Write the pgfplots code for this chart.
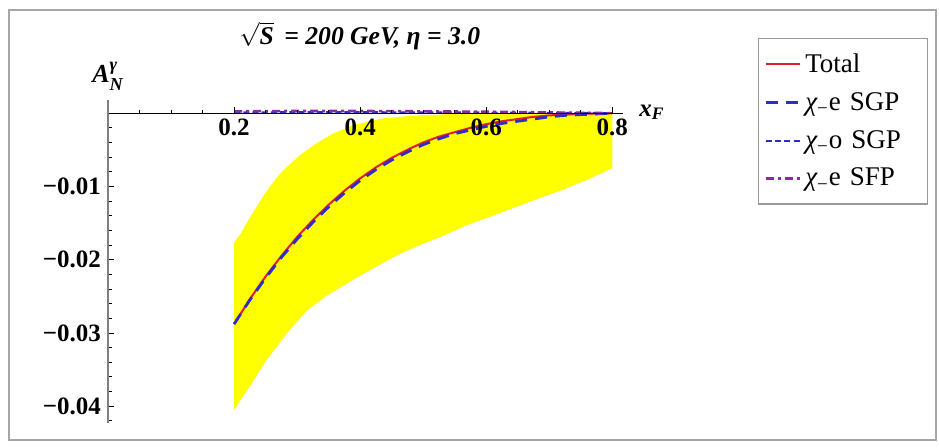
\documentclass[border=0pt]{standalone}
\usepackage{amsmath}
\usepackage{fontspec}
\setmainfont{Liberation Serif}
\usepackage{pgfplots}
\pgfplotsset{compat=1.18}
\definecolor{curvered}{RGB}{220,30,45}
\definecolor{sgpblue}{RGB}{45,45,200}
\definecolor{sfppurple}{RGB}{140,40,170}
\definecolor{bandyellow}{RGB}{255,255,0}

\begin{document}
\begin{tikzpicture}
% 1 px of the reference = 0.5pt, origin at axis lower left (px 108,423)
\useasboundingbox (-54pt,-12.5pt) rectangle (415.5pt,211.5pt);
\draw[gray!70, line width=1pt] (-49.5pt,-8.5pt) rectangle (414pt,206.5pt);
\begin{axis}[
  at={(0,0)}, anchor=south west,
  scale only axis, width=257.5pt, height=161.5pt,
  xmin=0, xmax=0.817, ymin=-0.0423, ymax=0.0018,
  axis lines*=middle, axis on top,
  scaled y ticks=false, scaled x ticks=false,
  x axis line style={black, line width=0.6pt},
  y axis line style={gray, line width=0.6pt},
  xtick={0.2,0.4,0.6,0.8}, xticklabels={0.2,0.4,0.6,0.8},
  minor xtick={0.05,0.1,0.15,0.25,0.3,0.35,0.45,0.5,0.55,0.65,0.7,0.75},
  ytick={-0.04,-0.03,-0.02,-0.01},
  yticklabels={−0.04,−0.03,−0.02,−0.01},
  minor ytick={-0.042,-0.038,-0.036,-0.034,-0.032,-0.028,-0.026,-0.024,-0.022,-0.018,-0.016,-0.014,-0.012,-0.008,-0.006,-0.004,-0.002},
  tick align=inside,
  major tick length=3pt, minor tick length=1.8pt,
  tick style={black, line width=0.4pt},
  every tick label/.append style={font=\bfseries\fontsize{12.5}{13}\selectfont},
  xticklabel style={yshift=0.5pt},
  title={{\bfseries\itshape $\sqrt{\mbox{\bfseries\itshape S}}$\, = 200 GeV, η = 3.0}},
  title style={at={(axis description cs:0.489,1.162)}, anchor=center, font=\fontsize{12.8}{13}\selectfont},
  xlabel={{\bfseries\itshape x$_{\text{\bfseries\itshape F}}$}},
  xlabel style={at={(axis description cs:1.056,0.962)}, anchor=center, font=\fontsize{12.5}{13}\selectfont},
  ylabel={{\bfseries\itshape A$^{\text{\bfseries\itshape γ}}_{\text{\bfseries\itshape N}}$}},
  ylabel style={at={(axis description cs:0.0,1.074)}, anchor=center, rotate=-90, font=\fontsize{13}{13}\selectfont},
  legend style={at={(axis description cs:1.262,1.192)}, anchor=north west,
                draw=gray!80, line width=0.6pt, font=\fontsize{13.5}{15}\selectfont,
                inner xsep=3pt, inner ysep=5.5pt, row sep=4.5pt,
                nodes={anchor=west, text width=56pt}},
  legend cell align=left,
  legend image code/.code={\draw[#1] (0pt,0pt) -- (17pt,0pt);},
  clip=false,
]
% uncertainty band
\addplot[fill=bandyellow, draw=none, forget plot] coordinates {
  (0.200,-0.0177) (0.210,-0.0165) (0.220,-0.0150) (0.230,-0.0136)
  (0.240,-0.0122) (0.252,-0.0106) (0.265,-0.0091) (0.278,-0.0078)
  (0.292,-0.0067) (0.305,-0.0057) (0.331,-0.0041) (0.357,-0.0028)
  (0.384,-0.0018) (0.410,-0.0012) (0.437,-0.0007) (0.490,-0.0003)
  (0.550,-0.0001) (0.600,0.0000) (0.800,0.0000)
  (0.800,-0.0075) (0.760,-0.0091) (0.720,-0.0105) (0.675,-0.0119)
  (0.620,-0.0137) (0.569,-0.0153) (0.530,-0.0168) (0.495,-0.0180)
  (0.463,-0.0192) (0.437,-0.0204) (0.410,-0.0217) (0.384,-0.0230)
  (0.347,-0.0249) (0.315,-0.0270) (0.284,-0.0300) (0.250,-0.0339)
  (0.225,-0.0373) (0.200,-0.0405)
} -- cycle;
\addplot[curvered, line width=1pt] coordinates {
  (0.200,-0.0288) (0.225,-0.0254) (0.250,-0.0223) (0.275,-0.0195)
  (0.300,-0.0169) (0.325,-0.0146) (0.350,-0.0125) (0.375,-0.0106)
  (0.400,-0.0089) (0.425,-0.0074) (0.450,-0.0061) (0.475,-0.0050)
  (0.500,-0.0040) (0.525,-0.0032) (0.550,-0.0026) (0.575,-0.0020)
  (0.600,-0.0015) (0.625,-0.0011) (0.650,-0.0008) (0.675,-0.0005)
  (0.700,-0.0003) (0.725,-0.0002) (0.750,-0.0001) (0.775,-0.00003)
  (0.800,0.0000)
};
\addlegendentry{Total}
\addplot[sgpblue, line width=1.4pt, dash pattern=on 6pt off 4pt] coordinates {
  (0.200,-0.0288) (0.225,-0.0255) (0.250,-0.0225) (0.275,-0.0197)
  (0.300,-0.0172) (0.325,-0.0149) (0.350,-0.0128) (0.375,-0.0109)
  (0.400,-0.0092) (0.425,-0.0077) (0.450,-0.0064) (0.475,-0.0053)
  (0.500,-0.0043) (0.525,-0.0035) (0.550,-0.0028) (0.575,-0.0023)
  (0.600,-0.0018) (0.625,-0.0014) (0.650,-0.0011) (0.675,-0.0008)
  (0.700,-0.0005) (0.725,-0.0003) (0.750,-0.0002) (0.775,-0.0001)
  (0.800,0.0000)
};
\addlegendentry{{\itshape χ}$_{\text{−}}$e SGP}
\addplot[sgpblue, line width=1.1pt, dash pattern=on 3pt off 1.6pt] coordinates {
  (0.200,0.00010) (0.300,0.00012) (0.400,0.00012) (0.500,0.00010)
  (0.600,0.00008) (0.700,0.00004) (0.800,0.00000)
};
\addlegendentry{{\itshape χ}$_{\text{−}}$o SGP}
\addplot[sfppurple, line width=1.3pt, dash pattern=on 4pt off 2pt on 1.5pt off 2pt] coordinates {
  (0.200,0.00025) (0.300,0.00030) (0.400,0.00030) (0.500,0.00025)
  (0.600,0.00020) (0.700,0.00010) (0.800,0.00000)
};
\addlegendentry{{\itshape χ}$_{\text{−}}$e SFP}
\end{axis}
\end{tikzpicture}
\end{document}
